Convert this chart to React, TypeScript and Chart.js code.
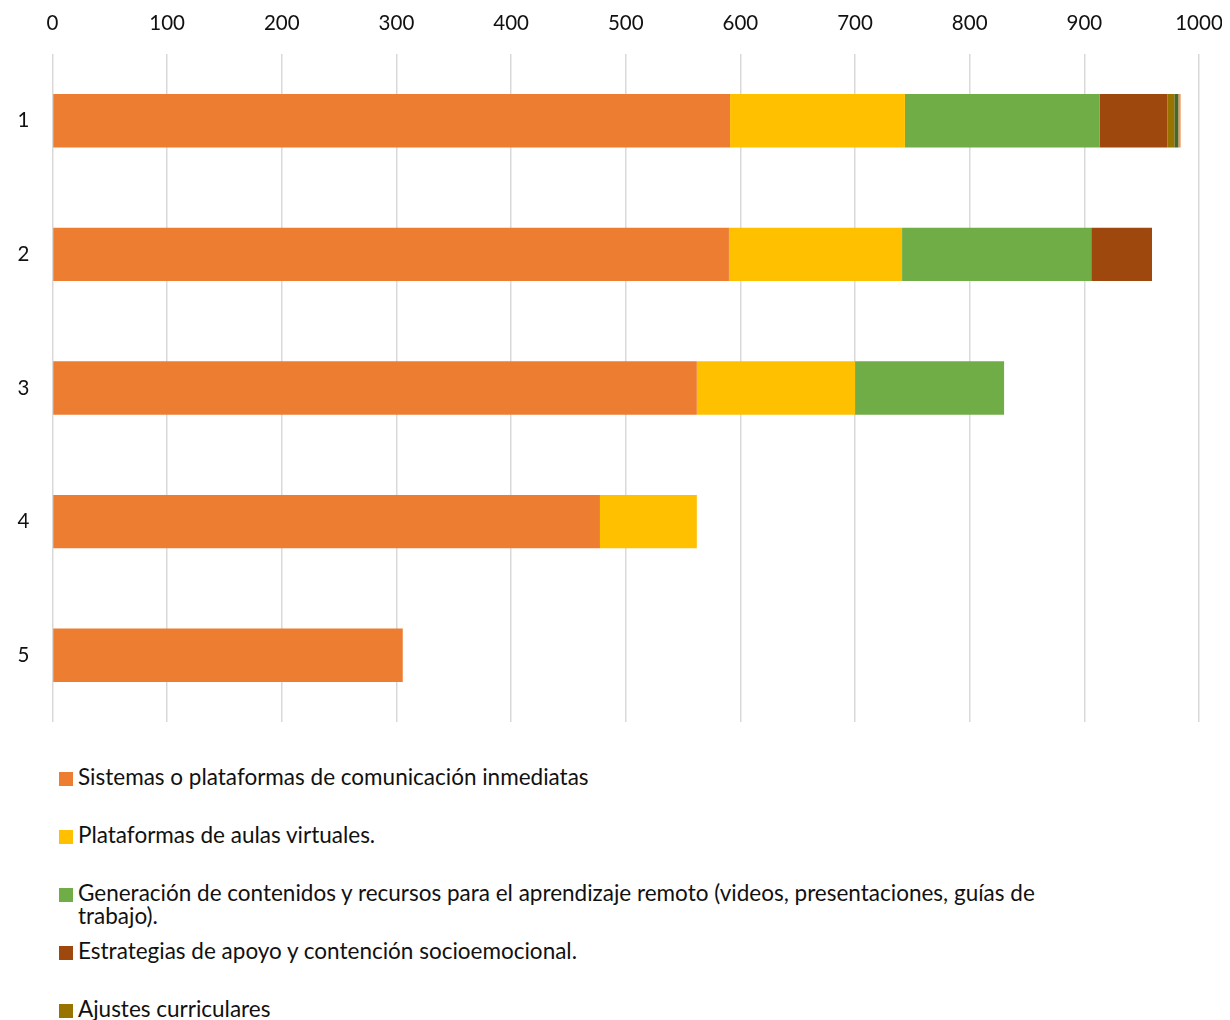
import React, { useEffect, useRef } from "react";
import { Chart, registerables } from "chart.js";

Chart.register(...registerables);

const categories = ["1", "2", "3", "4", "5"];
const xTicks = [0, 100, 200, 300, 400, 500, 600, 700, 800, 900, 1000];

const seriesNames = [
  "Sistemas o plataformas de comunicación inmediatas",
  "Plataformas de aulas virtuales.",
  "Generación de contenidos y recursos para el aprendizaje remoto (videos, presentaciones, guías de trabajo).",
  "Estrategias de apoyo y contención socioemocional.",
  "Ajustes curriculares",
  "Serie 6",
  "Serie 7",
];
const seriesColors = ["#ED7D31", "#FFC000", "#70AD47", "#9E480E", "#997300", "#43682B", "#F1975A"];

const comunicacion = [591, 590, 562, 477.5, 305.5];
const aulasVirtuales = [152.5, 151, 138, 84.5, 0];
const contenidos = [170, 165, 130, 0, 0];
const socioemocional = [59, 53, 0, 0, 0];
const ajustes = [6, 0, 0, 0, 0];
const serie6 = [3.5, 0, 0, 0, 0];
const serie7 = [2, 0, 0, 0, 0];

const seriesValues = [comunicacion, aulasVirtuales, contenidos, socioemocional, ajustes, serie6, serie7];
const legendCount = 5;

const FONT = "Lato, 'Open Sans', sans-serif";
const TEXT = "#111111";

const CANVAS_W = 1214;
const CANVAS_H = 730;

export default function App() {
  const ref = useRef<HTMLCanvasElement | null>(null);
  useEffect(() => {
    document.documentElement.style.overflow = "hidden";
    document.body.style.overflow = "hidden";
    if (!ref.current) return;
    const chart = new Chart(ref.current, {
      type: "bar",
      data: {
        labels: categories,
        datasets: seriesValues.map((vals, i) => ({
          label: seriesNames[i],
          data: vals,
          backgroundColor: seriesColors[i],
          borderWidth: 0,
          barPercentage: 0.4,
          categoryPercentage: 1,
        })),
      },
      options: {
        indexAxis: "y",
        responsive: false,
        animation: false,
        layout: { padding: { top: 0, left: 0, right: 23, bottom: 16 } },
        plugins: { legend: { display: false }, tooltip: { enabled: false } },
        scales: {
          x: {
            position: "top",
            stacked: true,
            min: 0,
            max: 1000,
            afterBuildTicks: (axis: any) => {
              axis.ticks = xTicks.map((v) => ({ value: v }));
            },
            afterFit: (s: any) => {
              s.height = 46;
              s.paddingLeft = 0;
              s.paddingRight = 0;
            },
            grid: { color: "#D9D9D9", lineWidth: 1.5, drawTicks: false },
            border: { display: false },
            ticks: {
              padding: 18,
              color: TEXT,
              font: { family: FONT, size: 20.5 },
              maxRotation: 0,
              autoSkip: false,
              callback: (v: any) => String(v),
            },
          },
          y: {
            stacked: true,
            afterFit: (s: any) => {
              s.width = 44.5;
              s.paddingTop = 0;
              s.paddingBottom = 0;
            },
            grid: { display: false, drawTicks: false },
            border: { display: false },
            ticks: { padding: 23, color: TEXT, font: { family: FONT, size: 20.5 } },
          },
        },
      },
    });
    return () => chart.destroy();
  }, []);

  return (
    <div style={{ height: 1040, overflow: "hidden", position: "relative", width: CANVAS_W }}>
      <canvas ref={ref} width={CANVAS_W} height={CANVAS_H} style={{ display: "block" }} />
      <div style={{ position: "relative" }}>
        {seriesNames.slice(0, legendCount).map((name, i) => (
          <div
            key={name}
            style={{
              position: "absolute",
              top: 27 + i * 58,
              left: 51,
              display: "flex",
              alignItems: "flex-start",
              fontFamily: FONT,
              fontSize: 22.5,
              lineHeight: "23px",
              color: TEXT,
            }}
          >
            <span
              style={{
                display: "inline-block",
                width: 14,
                height: 14,
                background: seriesColors[i],
                marginTop: 7,
                marginRight: 5,
                flex: "none",
              }}
            />
            <span style={{ width: 985 }}>{name}</span>
          </div>
        ))}
      </div>
    </div>
  );
}
